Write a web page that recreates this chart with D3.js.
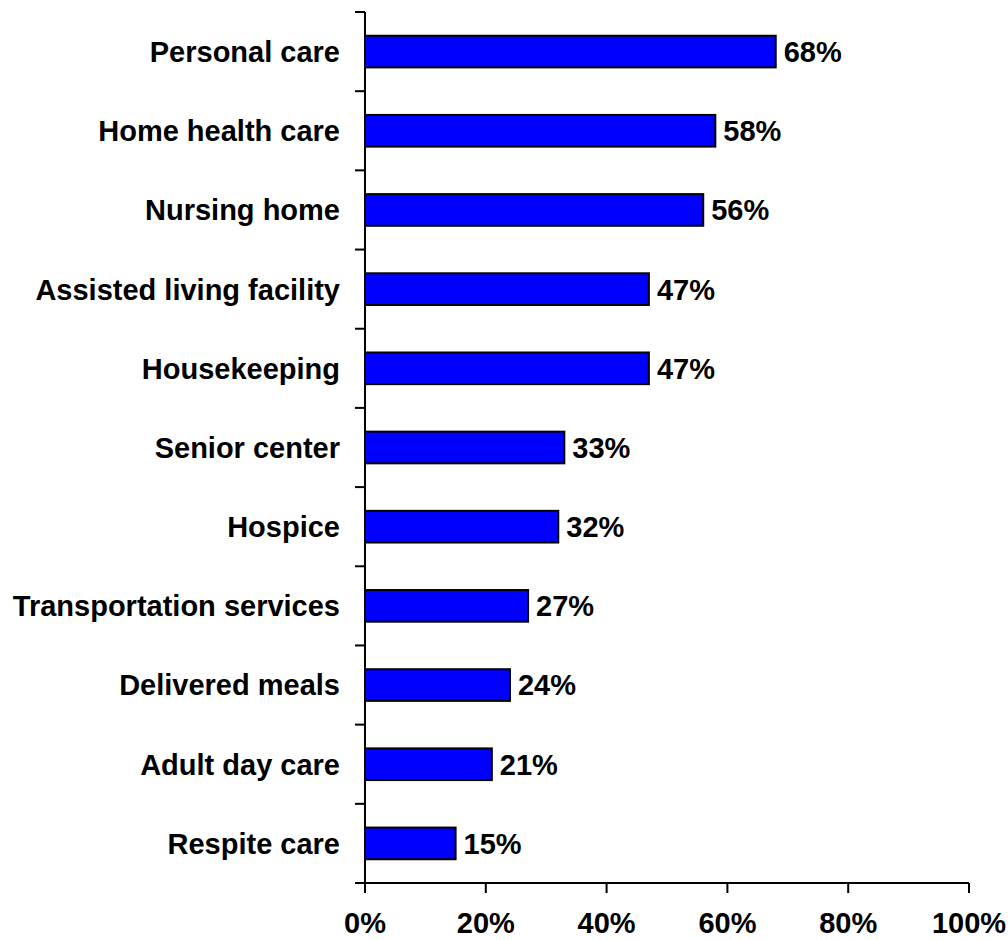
<!DOCTYPE html>
<html><head><meta charset="utf-8">
<script src="https://cdn.jsdelivr.net/npm/d3@7"></script>
<style>body{margin:0;background:#fff}svg{display:block}text{font-family:"Liberation Sans",Arial,sans-serif;font-weight:bold;fill:#000}</style>
</head><body><svg id="c" width="1008" height="940"></svg>
<script>
const categories = ["Personal care","Home health care","Nursing home","Assisted living facility","Housekeeping","Senior center","Hospice","Transportation services","Delivered meals","Adult day care","Respite care"];
const values = [68,58,56,47,47,33,32,27,24,21,15];
const xTicks = [0,20,40,60,80,100];

const svg = d3.select("#c");
const x = d3.scaleLinear().domain([0,100]).range([365,969]);
const y = d3.scaleBand().domain(categories).range([12,883]).paddingInner(0.6).paddingOuter(0.3);
const step = y.step();

// bars
svg.selectAll("rect.bar").data(categories).enter().append("rect")
  .attr("x", x(0)).attr("y", d=>y(d)).attr("height", y.bandwidth())
  .attr("width", (d,i)=>x(values[i])-x(0))
  .attr("fill","#0000FF").attr("stroke","#000").attr("stroke-width",2);

// value labels
svg.selectAll("text.val").data(categories).enter().append("text")
  .attr("x",(d,i)=>x(values[i])+8).attr("y",d=>y(d)+y.bandwidth()/2)
  .attr("dy","0.36em").attr("font-size",29).text((d,i)=>values[i]+"%");

// category labels
svg.selectAll("text.cat").data(categories).enter().append("text")
  .attr("x",340).attr("y",d=>y(d)+y.bandwidth()/2)
  .attr("dy","0.36em").attr("text-anchor","end").attr("font-size",29).text(d=>d);

// y axis line and ticks at band boundaries
const yTop = y.range()[0], yBot = y.range()[1];
svg.append("line").attr("x1",x(0)).attr("x2",x(0)).attr("y1",yTop).attr("y2",yBot).attr("stroke","#000").attr("stroke-width",2);
const bounds = d3.range(categories.length).map(i=>yTop+i*step);
svg.selectAll("line.yt").data(bounds).enter().append("line")
  .attr("x1",x(0)-10).attr("x2",x(0)).attr("y1",d=>d).attr("y2",d=>d).attr("stroke","#000").attr("stroke-width",2);

// x axis
svg.append("line").attr("x1",x(0)-10).attr("x2",x(100)).attr("y1",yBot).attr("y2",yBot).attr("stroke","#000").attr("stroke-width",2);
svg.selectAll("line.xt").data(xTicks).enter().append("line")
  .attr("x1",d=>x(d)).attr("x2",d=>x(d)).attr("y1",yBot).attr("y2",yBot+10).attr("stroke","#000").attr("stroke-width",2);
svg.selectAll("text.xl").data(xTicks).enter().append("text")
  .attr("x",d=>x(d)).attr("y",933).attr("text-anchor","middle").attr("font-size",29).text(d=>d+"%");
</script></body></html>
